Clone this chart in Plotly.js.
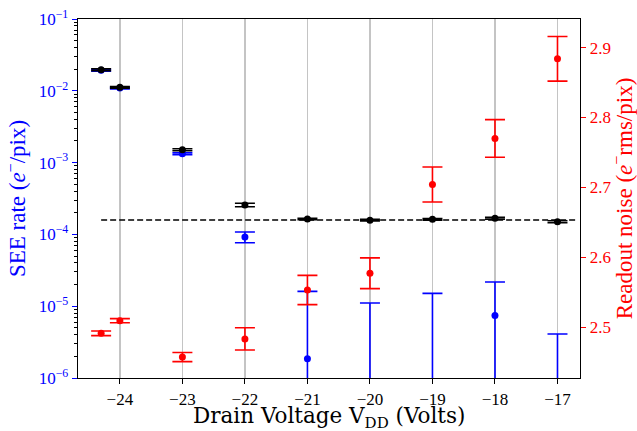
<!DOCTYPE html>
<html>
<head>
<meta charset="utf-8">
<script src="https://cdn.plot.ly/plotly-3.0.1.min.js"></script>
<style>html,body{margin:0;padding:0;background:#fff;}#chart{width:637px;height:431px;}</style>
</head>
<body>
<div id="chart"></div>
<script>
// Drain voltages (Volts); the first point is slightly offset at -24.3
const voltages = [-24.3, -24, -23, -22, -21, -20, -19, -18, -17];

// SEE rate, total (black), e-/pix
const seeTotal      = [0.0197, 0.0112, 0.00151, 2.57e-4, 1.64e-4, 1.58e-4, 1.62e-4, 1.68e-4, 1.50e-4];
const seeTotalErrUp = [0.0006, 0.0003, 0.00005, 1.4e-5, 4e-6, 4e-6, 4e-6, 5e-6, 5e-6];
const seeTotalErrDn = [0.0006, 0.0003, 0.00005, 1.4e-5, 4e-6, 4e-6, 4e-6, 5e-6, 5e-6];

// SEE rate, corrected (blue), e-/pix (points below 1e-6 are off the axis)
const seeBlue      = [0.0194, 0.0109, 0.00133, 9.2e-5, 1.86e-6, 1e-7, 1e-7, 7.4e-6, 1e-7];
const seeBlueUpper = [0.0200, 0.0112, 0.00137, 1.08e-4, 1.61e-5, 1.11e-5, 1.51e-5, 2.17e-5, 4.1e-6];
const seeBlueLower = [0.0188, 0.0106, 0.00129, 7.66e-5, 1e-9, 1e-9, 1e-9, 1e-9, 1e-9];

// Readout noise (red), e- rms/pix
const noise    = [2.491, 2.509, 2.457, 2.483, 2.553, 2.577, 2.704, 2.770, 2.884];
const noiseErr = [0.0033, 0.003, 0.0065, 0.016, 0.021, 0.022, 0.025, 0.027, 0.032];

// Reference level (dashed line)
const refLevel = 1.59e-4;
const refSpan = [-24.3, -16.7];

// Axis ticks and titles
const xTickVals = [-24, -23, -22, -21, -20, -19, -18, -17];
const xTickText = ['−24', '−23', '−22', '−21', '−20', '−19', '−18', '−17'];
const yTickVals = [1e-6, 1e-5, 1e-4, 1e-3, 1e-2, 1e-1];
const yTickText = ['10<sup>−6</sup>', '10<sup>−5</sup>', '10<sup>−4</sup>', '10<sup>−3</sup>', '10<sup>−2</sup>', '10<sup>−1</sup>'];
const y2TickVals = [2.5, 2.6, 2.7, 2.8, 2.9];
const y2TickText = ['2.5', '2.6', '2.7', '2.8', '2.9'];
const xTitle = 'Drain Voltage V<sub>DD</sub> (Volts)';
const yTitle = 'SEE rate (<i>e</i><sup>−</sup>/pix)';
const y2Title = 'Readout noise (<i>e</i><sup>−</sup>rms/pix)';

const minorVals = [];
for (let e = -6; e < -1; e++) for (let d = 2; d <= 9; d++) minorVals.push(d * Math.pow(10, e));

const blueTrace = {
  x: voltages, y: seeBlue, type: 'scatter', mode: 'markers', yaxis: 'y',
  marker: {color: '#0000ff', size: 7},
  error_y: {type: 'data', symmetric: false,
    array: seeBlue.map((v, i) => seeBlueUpper[i] - v),
    arrayminus: seeBlue.map((v, i) => v - seeBlueLower[i]),
    color: '#0000ff', thickness: 1.6, width: 10},
  showlegend: false
};
const blackTrace = {
  x: voltages, y: seeTotal, type: 'scatter', mode: 'markers', yaxis: 'y',
  marker: {color: '#000000', size: 7},
  error_y: {type: 'data', symmetric: false, array: seeTotalErrUp, arrayminus: seeTotalErrDn,
    color: '#000000', thickness: 1.6, width: 10},
  showlegend: false
};
const refTrace = {
  x: refSpan, y: [refLevel, refLevel], type: 'scatter', mode: 'lines', yaxis: 'y',
  line: {color: '#000000', width: 1.5, dash: '6px,3px'}, showlegend: false
};
const redTrace = {
  x: voltages, y: noise, type: 'scatter', mode: 'markers', yaxis: 'y2',
  marker: {color: '#ff0000', size: 7},
  error_y: {type: 'data', array: noiseErr, color: '#ff0000', thickness: 1.6, width: 10},
  showlegend: false
};

const layout = {
  width: 637, height: 431,
  margin: {l: 78, r: 56.5, t: 19, b: 53},
  paper_bgcolor: '#ffffff', plot_bgcolor: '#ffffff',
  font: {family: 'Liberation Serif, serif', size: 17, color: '#000'},
  xaxis: {
    range: [-24.67, -16.64], tickmode: 'array', tickvals: xTickVals, ticktext: xTickText,
    ticks: 'outside', ticklen: 5, tickcolor: '#000', tickwidth: 1, ticklabelstandoff: 0,
    showline: true, linecolor: '#000', linewidth: 1.3, mirror: true,
    showgrid: true, gridcolor: '#c4c4c4', gridwidth: 1.5, zeroline: false,
    tickfont: {family: 'Liberation Serif, serif', size: 17, color: '#000'}
  },
  yaxis: {
    type: 'log', range: [-6, -1], tickmode: 'array', tickvals: yTickVals, ticktext: yTickText,
    ticks: 'outside', ticklen: 5, tickcolor: '#0000ff', tickwidth: 1,
    minor: {tickmode: 'array', tickvals: minorVals, ticks: 'outside', ticklen: 3, tickcolor: '#000', showgrid: false},
    showline: true, linecolor: '#000', linewidth: 1.3,
    showgrid: false, zeroline: false,
    tickfont: {family: 'Liberation Serif, serif', size: 17, color: '#0000ff'},
    title: {text: yTitle, font: {family: 'Liberation Serif, serif', size: 23, color: '#0000ff'}, standoff: 6}
  },
  yaxis2: {
    overlaying: 'y', side: 'right', range: [2.427, 2.941],
    tickmode: 'array', tickvals: y2TickVals, ticktext: y2TickText,
    ticks: 'outside', ticklen: 5, tickcolor: '#ff0000', tickwidth: 1,
    showline: true, linecolor: '#000', linewidth: 1.3,
    showgrid: false, zeroline: false,
    tickfont: {family: 'Liberation Serif, serif', size: 17, color: '#ff0000'},
    title: {text: y2Title, font: {family: 'Liberation Serif, serif', size: 23, color: '#ff0000'}, standoff: 6}
  },
  annotations: [{
    text: xTitle, xref: 'paper', yref: 'paper', x: 0.5, y: 0,
    xanchor: 'center', yanchor: 'top', yshift: -23, showarrow: false,
    font: {family: 'DejaVu Serif, serif', size: 21.5, color: '#000'}
  }]
};

Plotly.newPlot('chart', [blueTrace, blackTrace, refTrace, redTrace], layout, {displayModeBar: false, staticPlot: true});
</script>
</body>
</html>
